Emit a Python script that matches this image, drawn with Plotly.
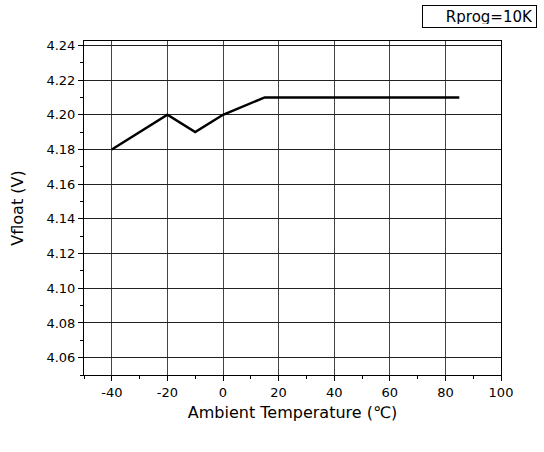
import plotly.graph_objects as go

temps = [-40, -20, -10, 0, 15, 85]
vfloat = [4.18, 4.20, 4.19, 4.20, 4.21, 4.21]
x_ticks = [-40, -20, 0, 20, 40, 60, 80, 100]
y_ticks = [4.06, 4.08, 4.10, 4.12, 4.14, 4.16, 4.18, 4.20, 4.22, 4.24]
legend_text = "Rprog=10K"

L, R, T, B = 84, 501, 41, 375.5

fig = go.Figure()
fig.add_trace(go.Scatter(x=temps, y=vfloat, mode="lines",
                         line=dict(color="black", width=2.5), showlegend=False))

font = "DejaVu Sans, Verdana, sans-serif"
fig.update_layout(
    width=544, height=452,
    margin=dict(l=L, r=544 - R, t=T, b=452 - B),
    paper_bgcolor="white", plot_bgcolor="white",
    font=dict(family=font, size=13, color="black"),
)
fig.update_xaxes(
    range=[-50, 100], tickvals=x_ticks, ticktext=[str(v) for v in x_ticks],
    showgrid=True, gridcolor="#444444", gridwidth=1,
    showline=True, linecolor="black", linewidth=1, mirror=True,
    ticks="outside", ticklen=5, tickcolor="black",
    minor=dict(dtick=10, tick0=0, ticks="outside", ticklen=3, tickcolor="black", showgrid=False),
    zeroline=False,
    title=dict(text="Ambient Temperature (℃)", font=dict(size=16), standoff=8),
)
fig.update_yaxes(
    range=[4.05, 4.2425], tickvals=y_ticks, ticktext=[f"{v:.2f}" for v in y_ticks],
    showgrid=True, gridcolor="#222222", gridwidth=1,
    showline=True, linecolor="black", linewidth=1, mirror=True,
    ticks="outside", ticklen=5, tickcolor="black",
    minor=dict(dtick=0.01, tick0=4.05, ticks="outside", ticklen=3, tickcolor="black", showgrid=False),
    zeroline=False,
    title=dict(text="Vfloat (V)", font=dict(size=16), standoff=18),
)
fig.add_annotation(
    text=legend_text, xref="paper", yref="paper",
    x=(537 - L) / (R - L), y=(B - 5) / (B - T), xanchor="right", yanchor="top",
    showarrow=False, font=dict(size=15, color="black"),
    width=107, height=15, align="right",
    bordercolor="black", borderwidth=1, borderpad=3, bgcolor="white",
)
fig.write_html("out.html", config={"displayModeBar": False},
               post_script="document.body.style.margin='0';document.body.style.padding='0';")
